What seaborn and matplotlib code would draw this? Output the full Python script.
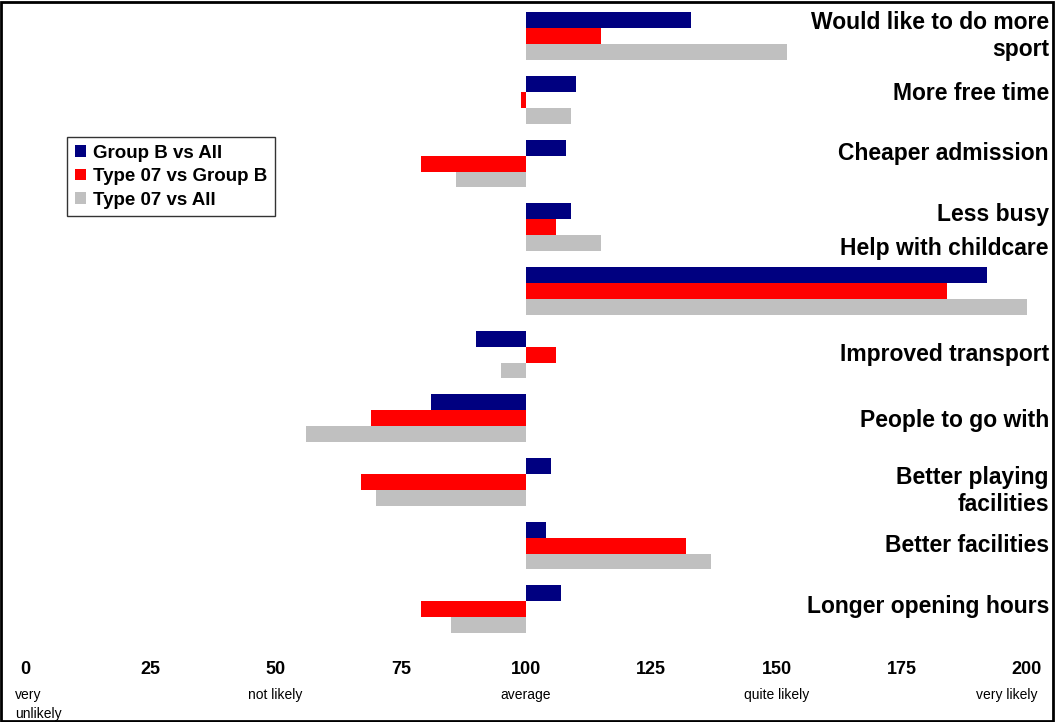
"""Motivadores para hacer más deporte: índices relativos (100 = media)."""

import matplotlib.pyplot as plt
import matplotlib.transforms as mtransforms
from matplotlib.patches import Rectangle
import pandas as pd
import seaborn as sns

# ── datos ─────────────────────────────────────
ITEMS = [
    "Would like to do more\nsport",
    "More free time",
    "Cheaper admission",
    "Less busy",
    "Help with childcare",
    "Improved transport",
    "People to go with",
    "Better playing\nfacilities",
    "Better facilities",
    "Longer opening hours",
]
SERIES = ["Group B vs All", "Type 07 vs Group B", "Type 07 vs All"]
GROUP_B_VS_ALL = [133, 110, 108, 109, 192, 90, 81, 105, 104, 107]
TYPE07_VS_GROUP_B = [115, 99, 79, 106, 184, 106, 69, 67, 132, 79]
TYPE07_VS_ALL = [152, 109, 86, 115, 200, 95, 56, 70, 137, 85]
BASELINE = 100
TICKS = [0, 25, 50, 75, 100, 125, 150, 175, 200]
SCALE_WORDS = ["very\nunlikely", "not likely", "average", "quite likely", "very likely"]
SCALE_AT = [0, 50, 100, 150, 200]

COLORS = {SERIES[0]: "#000080", SERIES[1]: "#FF0000", SERIES[2]: "#C0C0C0"}

# ajuste manual de la posición de las etiquetas (como en el original)
LABEL_NUDGE = [0, -0.1, -0.15, -0.2, -0.66, 0, 0.03, 0.14, 0, -0.05]

df = pd.DataFrame({
    "item": ITEMS * 3,
    "series": [s for s in SERIES for _ in ITEMS],
    "value": GROUP_B_VS_ALL + TYPE07_VS_GROUP_B + TYPE07_VS_ALL,
})
df["delta"] = df["value"] - BASELINE

sns.set_style("white")
plt.rcParams["font.family"] = ["Liberation Sans", "DejaVu Sans"]
plt.rcParams["text.color"] = "black"
plt.rcParams["xtick.color"] = "black"

fig = plt.figure(figsize=(10.55, 7.22), dpi=100)
ax = fig.add_axes([25 / 1055, 1 - 650 / 722, (1027 - 25) / 1055, (650 - 5) / 722])

sns.barplot(
    data=df, y="item", x="delta", hue="series", hue_order=SERIES,
    order=ITEMS, palette=COLORS, orient="h", width=0.75,
    saturation=1, errorbar=None, ax=ax, legend=True, linewidth=0,
)

ax.set_xlim(-BASELINE, 200 - BASELINE)
ax.set_ylim(9.64, -0.49)
ax.set_xticks([t - BASELINE for t in TICKS])
ax.set_xticklabels([str(t) for t in TICKS], fontsize=13, fontweight="bold")
ax.tick_params(axis="x", length=0, pad=8, colors="black")
ax.set_yticks([])
ax.set_xlabel("")
ax.set_ylabel("")
for s in ax.spines.values():
    s.set_visible(False)

# etiquetas de categoría a la derecha
trans = mtransforms.blended_transform_factory(fig.transFigure, ax.transData)
for i, (label, nudge) in enumerate(zip(ITEMS, LABEL_NUDGE)):
    ax.text(1049 / 1055, i + nudge, label, transform=trans, ha="right",
            va="center", fontsize=16.5, fontweight="bold", linespacing=1.2,
            color="black")

# escala verbal bajo los ticks
for word, at in zip(SCALE_WORDS, SCALE_AT):
    ha = "left" if at == 0 else ("right" if at == 200 else "center")
    xoff = -10 if at == 0 else (10 if at == 200 else 0)
    t = mtransforms.offset_copy(ax.transData, fig=fig, x=xoff, y=0, units="dots")
    tb = mtransforms.blended_transform_factory(t, fig.transFigure)
    ax.text(at - BASELINE, 1 - 688 / 722, word, transform=tb, ha=ha, va="top",
            fontsize=10, linespacing=1.45, multialignment="left", color="black")

leg = ax.legend(
    loc="upper left", bbox_to_anchor=(67 / 1055, 1 - 137 / 722),
    bbox_transform=fig.transFigure, frameon=True, fancybox=False,
    prop={"weight": "bold", "size": 13.5}, handlelength=0.6, handleheight=0.6,
    handletextpad=0.4, borderpad=0.4, labelspacing=0.35, borderaxespad=0,
)
leg.get_frame().set_edgecolor("black")
leg.get_frame().set_linewidth(1)
for txt in leg.get_texts():
    txt.set_color("black")

fig.patches.append(Rectangle((0.001, 0.002), 0.997, 0.995, transform=fig.transFigure,
                             fill=False, edgecolor="black", linewidth=2))

fig.savefig("out.png", dpi=100)
